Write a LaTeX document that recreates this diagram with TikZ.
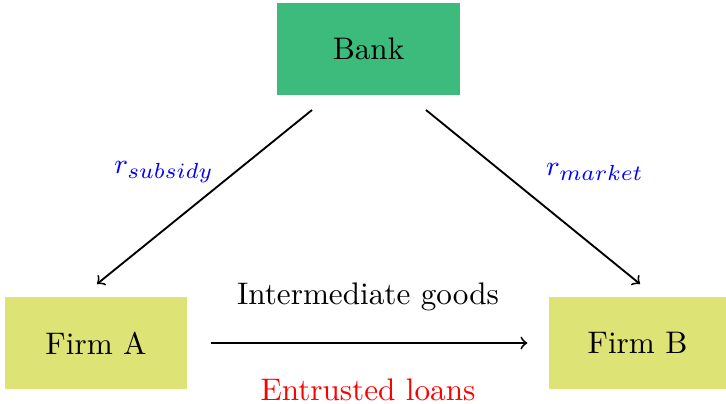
\documentclass[tikz,border=0pt]{standalone}
\usepackage{xcolor}
\definecolor{bankgreen}{RGB}{61,187,124}
\definecolor{firmyellow}{RGB}{221,227,116}
\begin{document}
\begin{tikzpicture}[x=0.3206pt,y=-0.3206pt,
  box/.style={rectangle,inner sep=0pt,font=\normalsize},
  conn/.style={->,line width=0.6pt},
  rate/.style={text=blue,font=\fontsize{9.4pt}{11pt}\selectfont}]
\useasboundingbox (0,0) rectangle (726,404);
\node[box,fill=bankgreen,minimum width=183*0.3206pt,minimum height=92*0.3206pt] (bank) at (368.5,49) {Bank};
\node[box,fill=firmyellow,minimum width=182*0.3206pt,minimum height=92*0.3206pt] (firmA) at (96,343) {Firm A};
\node[box,fill=firmyellow,minimum width=177*0.3206pt,minimum height=92*0.3206pt] (firmB) at (637.5,343) {Firm B};
\coordinate (bs1) at (312,110);
\coordinate (fa1) at (97,284);
\coordinate (bs2) at (426,110);
\coordinate (fb1) at (640,284);
\draw[conn] (bs1) -- (fa1);
\draw[conn] (bs2) -- (fb1);
\draw[conn,shorten <=23*0.3206pt,shorten >=21*0.3206pt] (firmA.east) -- (firmB.west);
\node[rate] (rs) at (164,172) {$r_{subsidy}$};
\node[rate] (rm) at (595,172) {$r_{market}$};
\node (ig) at (368,297) {Intermediate goods};
\node[text=red] (el) at (368,390) {Entrusted loans};
\end{tikzpicture}
\end{document}
